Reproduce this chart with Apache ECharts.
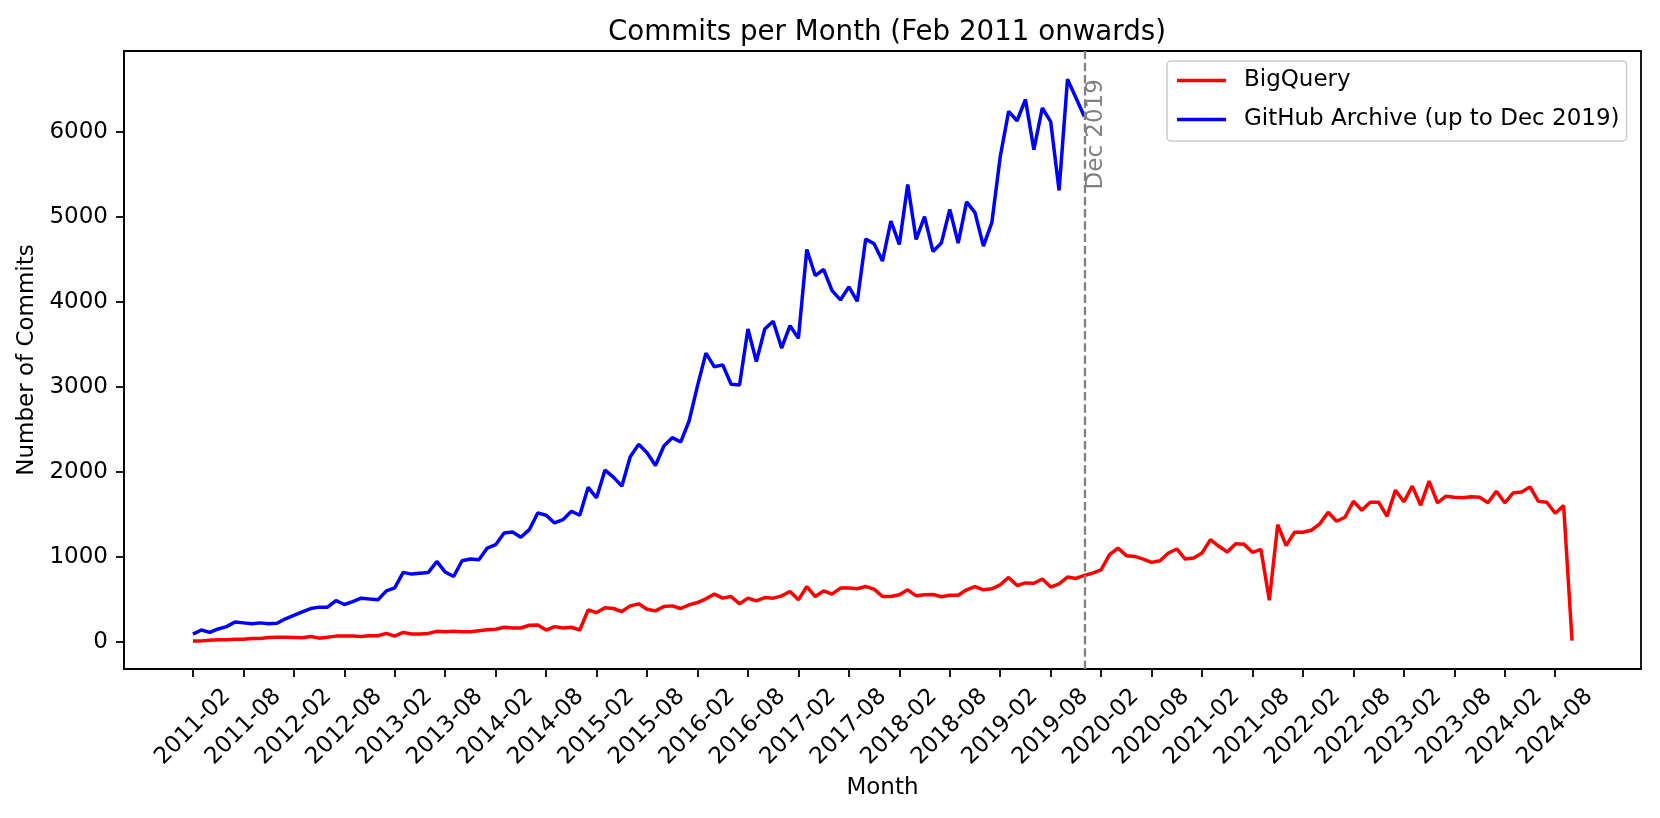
<!DOCTYPE html>
<html>
<head>
<meta charset="utf-8">
<script src="https://cdn.jsdelivr.net/npm/echarts@6/dist/echarts.min.js"></script>
<style>
html,body{margin:0;padding:0;background:#fff;}
#chart{width:1660px;height:818px;}
</style>
</head>
<body>
<div id="chart"></div>
<script>
// Tick labels (every 6 months, starting 2011-02 = month index 0)
const tickLabels = ['2011-02','2011-08','2012-02','2012-08','2013-02','2013-08','2014-02','2014-08',
  '2015-02','2015-08','2016-02','2016-08','2017-02','2017-08','2018-02','2018-08',
  '2019-02','2019-08','2020-02','2020-08','2021-02','2021-08','2022-02','2022-08',
  '2023-02','2023-08','2024-02','2024-08'];

// BigQuery commits per month, Feb 2011 .. Oct 2024
const bigQuery = [
  8, 8, 16, 20, 20, 28, 28, 36, 36, 48,
  52, 52, 48, 44, 60, 40, 52, 64, 64, 64,
  60, 68, 68, 96, 64, 108, 88, 88, 96, 120,
  116, 120, 116, 116, 128, 140, 144, 168, 160, 160,
  192, 196, 136, 176, 160, 168, 136, 373, 341, 397,
  389, 353, 420, 444, 381, 361, 412, 420, 389, 432,
  459, 503, 558, 511, 530, 444, 511, 479, 518, 511,
  538, 589, 491, 648, 530, 597, 558, 629, 629, 621,
  648, 617, 530, 530, 550, 609, 538, 550, 554, 527,
  546, 546, 609, 648, 609, 621, 668, 755, 660, 690,
  686, 736, 641, 680, 759, 743, 778, 806, 845, 1022,
  1101, 1011, 1002, 971, 932, 952, 1042, 1090, 971, 983,
  1042, 1199, 1121, 1054, 1152, 1144, 1050, 1085, 487, 1376,
  1129, 1286, 1286, 1310, 1385, 1522, 1416, 1463, 1652, 1546,
  1640, 1640, 1475, 1782, 1645, 1829, 1605, 1888, 1633, 1711,
  1699, 1692, 1704, 1699, 1633, 1770, 1633, 1750, 1760, 1820,
  1650, 1640, 1510, 1600, 10
];

// GitHub Archive commits per month, Feb 2011 .. Dec 2019
const githubArchive = [
  88, 136, 108, 148, 176, 230, 220, 210, 220, 210,
  215, 268, 308, 348, 388, 405, 405, 483, 436, 470,
  511, 500, 491, 597, 633, 814, 794, 805, 814, 943,
  818, 766, 951, 971, 963, 1101, 1140, 1278, 1290, 1227,
  1317, 1514, 1487, 1396, 1435, 1534, 1487, 1815, 1692, 2018,
  1935, 1829, 2176, 2321, 2223, 2073, 2301, 2400, 2348, 2596,
  3009, 3395, 3234, 3257, 3029, 3021, 3679, 3297, 3679, 3770,
  3455, 3718, 3569, 4615, 4308, 4379, 4131, 4021, 4175, 4004,
  4737, 4682, 4478, 4950, 4674, 5379, 4733, 5001, 4592, 4690,
  5087, 4690, 5175, 5048, 4655, 4930, 5706, 6240, 6130, 6380,
  5790, 6280, 6120, 5310, 6620, 6400, 6180
];

const yTicks = [0, 1000, 2000, 3000, 4000, 5000, 6000];
const cutoffLabel = 'Dec 2019';

const xTicks = tickLabels.map((_, i) => i * 6);
const cutoffIndex = githubArchive.length - 1;
const maxGH = Math.max(...githubArchive);

const FONT = 'DejaVu Sans';
const chart = echarts.init(document.getElementById('chart'), null, {renderer: 'canvas'});
chart.setOption({
  animation: false,
  backgroundColor: '#ffffff',
  title: {
    text: 'Commits per Month (Feb 2011 onwards)',
    left: 882, top: 14, textAlign: 'center',
    textStyle: {fontFamily: FONT, fontSize: 27.7, fontWeight: 'normal', color: '#000'}
  },
  legend: {
    orient: 'vertical',
    left: 1167, top: 61,
    padding: [8, 7, 10, 10],
    itemGap: 16,
    itemWidth: 49, itemHeight: 23,
    icon: 'path://M0,0 L49,0 L49,3.5 L0,3.5 Z',
    backgroundColor: 'rgba(255,255,255,0.8)',
    borderColor: '#cccccc', borderWidth: 1.5, borderRadius: 4,
    textStyle: {fontFamily: FONT, fontSize: 23, color: '#000', padding: [0, 0, 0, 13]},
    data: ['BigQuery', 'GitHub Archive (up to Dec 2019)']
  },
  grid: {
    left: 124, top: 51, width: 1517, height: 618,
    show: true, borderColor: '#000', borderWidth: 1.8, backgroundColor: 'transparent'
  },
  xAxis: {
    type: 'value', min: -8.2, max: 172.2,
    name: 'Month', nameLocation: 'middle', nameGap: 108,
    nameTextStyle: {fontFamily: FONT, fontSize: 23, color: '#000'},
    splitLine: {show: false},
    axisLine: {show: true, onZero: false, lineStyle: {color: '#000', width: 1.8}},
    axisTick: {show: true, customValues: xTicks, length: 8, lineStyle: {color: '#000', width: 1.8}},
    axisLabel: {
      customValues: xTicks, rotate: 45, align: 'center', verticalAlign: 'middle', margin: 58,
      fontFamily: FONT, fontSize: 23, color: '#000',
      formatter: v => tickLabels[Math.round(v / 6)] || ''
    }
  },
  yAxis: {
    type: 'value', min: -323, max: 6951,
    name: 'Number of Commits', nameLocation: 'middle', nameGap: 83, nameRotate: 90,
    nameTextStyle: {fontFamily: FONT, fontSize: 23, color: '#000'},
    splitLine: {show: false},
    axisLine: {show: true, onZero: false, lineStyle: {color: '#000', width: 1.8}},
    axisTick: {show: true, customValues: yTicks, length: 8, lineStyle: {color: '#000', width: 1.8}},
    axisLabel: {
      customValues: yTicks, margin: 16, fontFamily: FONT, fontSize: 23, color: '#000',
      formatter: v => String(Math.round(v))
    }
  },
  series: [
    {
      name: 'BigQuery', type: 'line', showSymbol: false, symbol: 'none',
      data: bigQuery.map((v, i) => [i, v]),
      lineStyle: {color: '#ff0000', width: 3.5},
      itemStyle: {color: '#ff0000'},
      z: 3
    },
    {
      name: 'GitHub Archive (up to Dec 2019)', type: 'line', showSymbol: false, symbol: 'none',
      data: githubArchive.map((v, i) => [i, v]),
      lineStyle: {color: '#0000ff', width: 3.5},
      itemStyle: {color: '#0000ff'},
      z: 4,
      markLine: {
        silent: true, symbol: 'none', animation: false,
        lineStyle: {color: '#808080', type: [8.5, 3.7], width: 2.3},
        label: {show: false},
        data: [{xAxis: cutoffIndex}]
      },
      markPoint: {
        silent: true, symbol: 'circle', symbolSize: 0, animation: false,
        data: [{coord: [cutoffIndex, maxGH]}],
        label: {
          show: true, formatter: cutoffLabel, position: [0, 0], rotate: 90,
          align: 'right', verticalAlign: 'top',
          fontFamily: FONT, fontSize: 23, color: '#808080'
        }
      }
    }
  ]
});
</script>
</body>
</html>
